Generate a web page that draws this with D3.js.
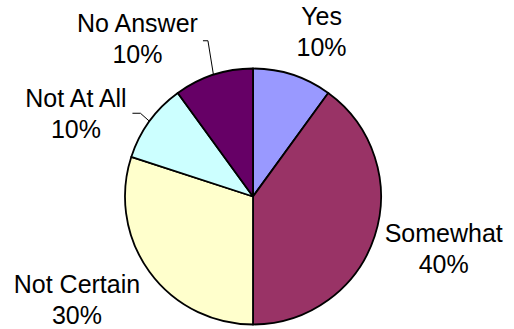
<!DOCTYPE html>
<html>
<head>
<meta charset="utf-8">
<script src="https://cdn.jsdelivr.net/npm/d3@7"></script>
<style>
  html, body { margin: 0; padding: 0; background: #ffffff; }
  svg { display: block; }
  text { font-family: "Liberation Sans", Arial, sans-serif; fill: #000; }
</style>
</head>
<body>
<svg id="chart" width="514" height="329"></svg>
<script>
// Survey answers, clockwise from 12 o'clock
const categories = ["Yes", "Somewhat", "Not Certain", "Not At All", "No Answer"];
const values = [10, 40, 30, 10, 10];
const colors = ["#9999FF", "#993366", "#FFFFCC", "#CCFFFF", "#660066"];

// Layout
const W = 514, H = 329;
const cx = 253, cy = 196.5, radius = 128;
const fontSize = 25, lineGap = 31;

// Label placement: offset of the label's centre (x) and first baseline (y)
// from the point where each slice's middle meets the rim.
const labelOffsets = [
  { dx: 29, dy: -50 },   // Yes
  { dx: 69, dy: 6 },     // Somewhat
  { dx: -72.5, dy: 21 }, // Not Certain
  { dx: -73.5, dy: -14 },// Not At All
  { dx: -76, dy: -43 }   // No Answer
];
// Leader lines for the labels that sit away from their slice
const leaders = {
  3: { x0: -17, y0: -8, x1: -9, y1: -8 },
  4: { x0: -10.5, y0: -34, x1: -5.5, y1: -34 }
};

const data = categories.map((c, i) => ({ name: c, value: values[i], color: colors[i], i }));
const total = d3.sum(values);

const pie = d3.pie().sort(null).value(d => d.value).startAngle(0).endAngle(2 * Math.PI);
const arc = d3.arc().innerRadius(0).outerRadius(radius);

const svg = d3.select("#chart");
const g = svg.append("g").attr("transform", `translate(${cx},${cy})`);

const arcs = pie(data);

g.selectAll("path.slice")
  .data(arcs)
  .join("path")
  .attr("class", "slice")
  .attr("d", arc)
  .attr("fill", d => d.data.color)
  .attr("stroke", "#000")
  .attr("stroke-width", 1.8)
  .attr("stroke-linejoin", "round");

// rim point at each slice's middle angle
function rimPoint(d) {
  const a = (d.startAngle + d.endAngle) / 2;
  return [radius * Math.sin(a), -radius * Math.cos(a)];
}

// leader lines
arcs.forEach(d => {
  const L = leaders[d.data.i];
  if (!L) return;
  const [px, py] = rimPoint(d);
  g.append("path")
    .attr("d", d3.line()([[px + L.x0, py + L.y0], [px + L.x1, py + L.y1], [px, py]]))
    .attr("fill", "none")
    .attr("stroke", "#000")
    .attr("stroke-width", 1);
});

// labels: category name and share
const fmt = d3.format(".0%");
arcs.forEach(d => {
  const [px, py] = rimPoint(d);
  const off = labelOffsets[d.data.i];
  const t = g.append("text")
    .attr("text-anchor", "middle")
    .attr("font-size", fontSize)
    .attr("x", px + off.dx)
    .attr("y", py + off.dy);
  t.append("tspan").attr("x", px + off.dx).text(d.data.name);
  t.append("tspan").attr("x", px + off.dx).attr("dy", lineGap).text(fmt(d.data.value / total));
});
</script>
</body>
</html>
